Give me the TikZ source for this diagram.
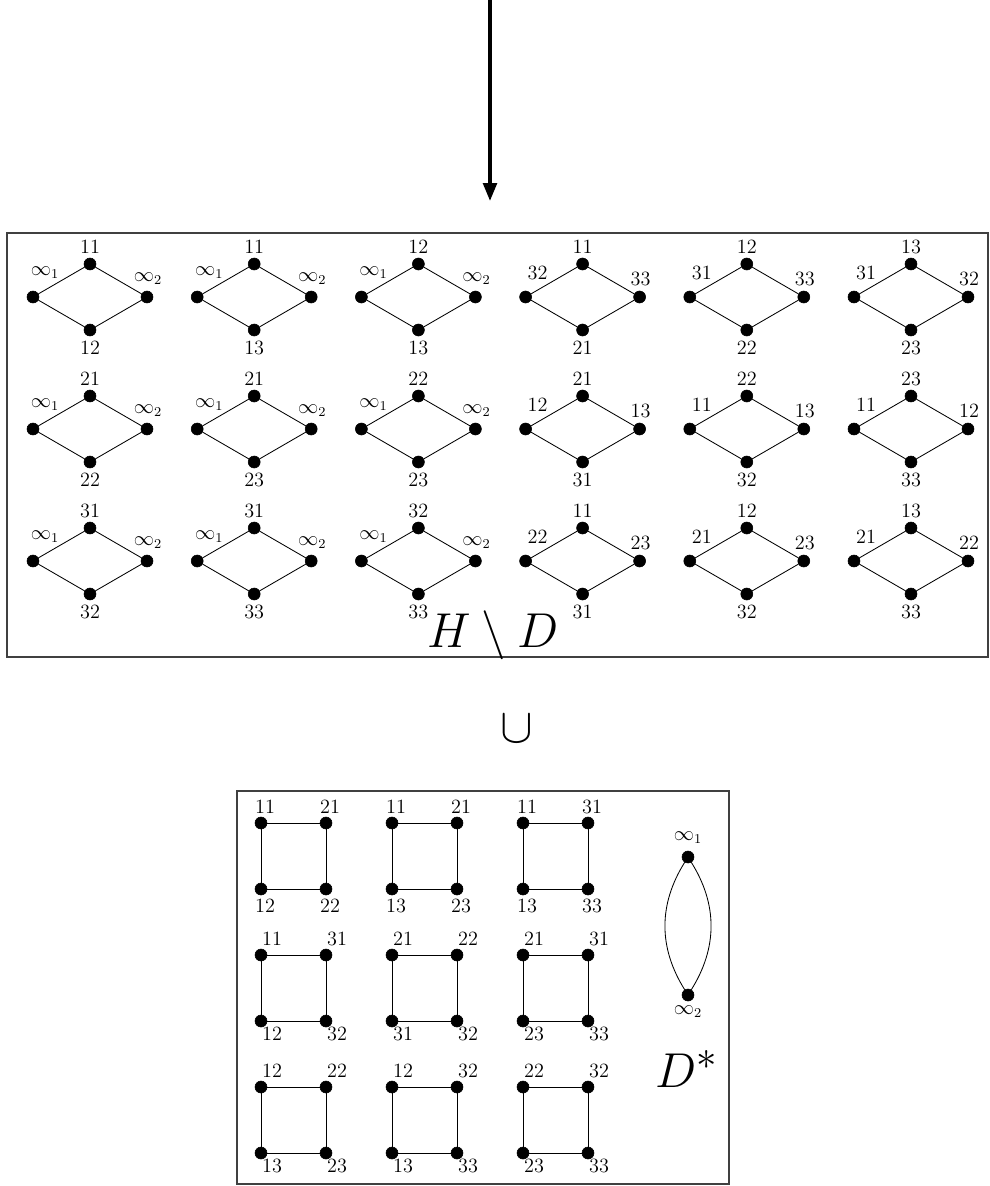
\documentclass[tikz,border=0pt]{standalone}
\usepackage{amsmath}
\usetikzlibrary{calc,arrows.meta}
\newcommand{\infa}{$\infty_1$}
\newcommand{\infb}{$\infty_2$}

\begin{document}
\begin{tikzpicture}[x=0.025cm,y=-0.025cm,
  vtx/.style={circle,fill=black,draw=black,inner sep=0pt,minimum size=0.3cm},
  lab/.style={inner sep=0pt,font=\large,scale=1.2},
  big/.style={inner sep=0pt,anchor=base,font=\Huge,scale=1.4},
  ln/.style={line width=0.6pt},
  frame/.style={draw=black!75,line width=0.9pt},
  arr/.style={-{Triangle[length=0.45cm,width=0.34cm]},line width=2.6pt}
]
  \useasboundingbox (0,0) rectangle (990,1186);
  % arrow down to H \ D
  \coordinate (src) at (490,0);
  \coordinate (dst) at (490,201);
  \draw[arr] (src) -- (dst);

  % H \ D : eighteen 4-cycles
  \draw[frame] (7,233) rectangle (988,657);
  \foreach \cl/\rw/\tp/\lf/\rt/\bt in {
      1/1/11/\infa/\infb/12, 2/1/11/\infa/\infb/13, 3/1/12/\infa/\infb/13,
      4/1/11/32/33/21, 5/1/12/31/33/22, 6/1/13/31/32/23,
      1/2/21/\infa/\infb/22, 2/2/21/\infa/\infb/23, 3/2/22/\infa/\infb/23,
      4/2/21/12/13/31, 5/2/22/11/13/32, 6/2/23/11/12/33,
      1/3/31/\infa/\infb/32, 2/3/31/\infa/\infb/33, 3/3/32/\infa/\infb/33,
      4/3/11/22/23/31, 5/3/12/21/23/32, 6/3/13/21/22/33}{
    \coordinate (D\cl\rw) at ({90+164.2*(\cl-1)},{297+132*(\rw-1)});
    \node[vtx] (D\cl\rw-t) at ($(D\cl\rw)+(0,-33)$) {};
    \node[vtx] (D\cl\rw-b) at ($(D\cl\rw)+(0,33)$) {};
    \node[vtx] (D\cl\rw-l) at ($(D\cl\rw)+(-57,0)$) {};
    \node[vtx] (D\cl\rw-r) at ($(D\cl\rw)+(57,0)$) {};
    \draw[ln] (D\cl\rw-t)--(D\cl\rw-r)--(D\cl\rw-b)--(D\cl\rw-l)--(D\cl\rw-t);
    \node[lab] (D\cl\rw-lt) at ($(D\cl\rw-t)+(0,-17)$) {\tp};
    \node[lab] (D\cl\rw-lb) at ($(D\cl\rw-b)+(0,18)$) {\bt};
    \node[lab] (D\cl\rw-ll) at ($(D\cl\rw-l)+(12,-24)$) {\lf};
    \node[lab] (D\cl\rw-lr) at ($(D\cl\rw-r)+(1,-18)$) {\rt};
  }
  \node[big] (hd) at (493,647) {$H\setminus D$};

  \node[big] (un) at (517,742) {$\cup$};

  % D^* : nine squares and the digon
  \draw[frame] (237,791) rectangle (729,1184);
  \foreach \cl/\rw/\pa/\pb/\pc/\pd in {
      1/1/11/21/12/22, 2/1/11/21/13/23, 3/1/11/31/13/33,
      1/2/11/31/12/32, 2/2/21/22/31/32, 3/2/21/31/23/33,
      1/3/12/22/13/23, 2/3/12/32/13/33, 3/3/22/32/23/33}{
    \pgfmathsetmacro\dx{\rw==1 ? 4 : 11}
    \pgfmathsetmacro\db{\rw==1 ? 17 : 13}
    \coordinate (S\cl\rw) at ({261+131*(\cl-1)},{823+132*(\rw-1)});
    \node[vtx] (S\cl\rw-a) at (S\cl\rw) {};
    \node[vtx] (S\cl\rw-b) at ($(S\cl\rw)+(65,0)$) {};
    \node[vtx] (S\cl\rw-c) at ($(S\cl\rw)+(0,66)$) {};
    \node[vtx] (S\cl\rw-d) at ($(S\cl\rw)+(65,66)$) {};
    \draw[ln] (S\cl\rw-a)--(S\cl\rw-b)--(S\cl\rw-d)--(S\cl\rw-c)--(S\cl\rw-a);
    \node[lab] (S\cl\rw-la) at ($(S\cl\rw-a)+(\dx,-16)$) {\pa};
    \node[lab] (S\cl\rw-lb) at ($(S\cl\rw-b)+(\dx,-16)$) {\pb};
    \node[lab] (S\cl\rw-lc) at ($(S\cl\rw-c)+(\dx,\db)$) {\pc};
    \node[lab] (S\cl\rw-ld) at ($(S\cl\rw-d)+(\dx,\db)$) {\pd};
  }
  \node[vtx] (I1) at (688,857) {};
  \node[vtx] (I2) at (688,995) {};
  \draw[ln] (I1) to[bend right=32] (I2);
  \draw[ln] (I1) to[bend left=32] (I2);
  \node[lab] (I1-l) at ($(I1)+(0,-19)$) {\infa};
  \node[lab] (I2-l) at ($(I2)+(0,17)$) {\infb};
  \node[big] (ds) at (687,1087) {$D^*$};
\end{tikzpicture}
\end{document}
